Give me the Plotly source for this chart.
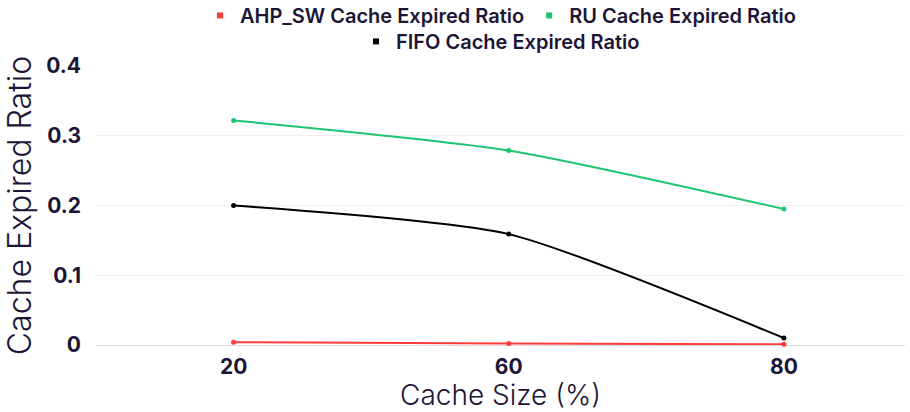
import plotly.graph_objects as go

categories = ["20", "60", "80"]
ahp_sw = [0.004, 0.002, 0.001]
ru = [0.322, 0.279, 0.195]
fifo = [0.200, 0.159, 0.010]

series = [
    ("AHP_SW Cache Expired Ratio", ahp_sw, "#ff3b3b", "legend"),
    ("RU Cache Expired Ratio", ru, "#1ec46f", "legend"),
    ("FIFO Cache Expired Ratio", fifo, "#000000", "legend2"),
]

text_color = "#1c1537"
fig = go.Figure()
for name, vals, color, leg in series:
    fig.add_trace(go.Scatter(
        x=categories, y=vals, mode="lines+markers", name=name,
        line=dict(color=color, width=2, shape="spline", smoothing=0.6),
        marker=dict(color=color, size=5), showlegend=False, cliponaxis=False,
    ))
for name, vals, color, leg in series:
    fig.add_trace(go.Scatter(
        x=[None], y=[None], mode="markers", name=name,
        marker=dict(color=color, size=6, symbol="square"),
        legend=leg, showlegend=True,
    ))

legend_font = dict(size=20, weight=600, color=text_color)
fig.update_layout(
    width=910, height=412,
    margin=dict(l=96, r=5, t=66, b=67, autoexpand=False),
    paper_bgcolor="white", plot_bgcolor="white",
    font=dict(family="Inter, Lato, sans-serif", color=text_color),
    legend=dict(orientation="h", x=0.5, xanchor="center", y=1.251, yref="paper",
                yanchor="top", font=legend_font,
                itemwidth=30, tracegroupgap=0, bgcolor="rgba(0,0,0,0)"),
    legend2=dict(orientation="h", x=0.5, xanchor="center", y=1.158, yref="paper",
                 yanchor="top", font=legend_font,
                 itemwidth=30, bgcolor="rgba(0,0,0,0)"),
    xaxis=dict(
        type="category", range=[-0.5, 2.44],
        showgrid=False, showline=False, zeroline=False,
        tickfont=dict(size=21, weight=700, color=text_color),
        title=dict(text="Cache Size (%)", font=dict(size=28, weight=300, color=text_color), standoff=1),
        ticks="", ticklabelstandoff=7,
    ),
    yaxis=dict(
        range=[0, 0.4], dtick=0.1,
        showgrid=True, gridcolor="#eeeeee", gridwidth=1,
        zeroline=True, zerolinecolor="#dcdcdc", zerolinewidth=1,
        showline=False, ticks="",
        tickfont=dict(size=21, weight=700, color=text_color),
        title=dict(text="Cache Expired Ratio", font=dict(size=32, weight=300, color=text_color), standoff=6),
        ticklabelstandoff=14,
    ),
)

fig.write_html("out.html", config={"displayModeBar": False},
               post_script="document.body.style.margin='0';")
